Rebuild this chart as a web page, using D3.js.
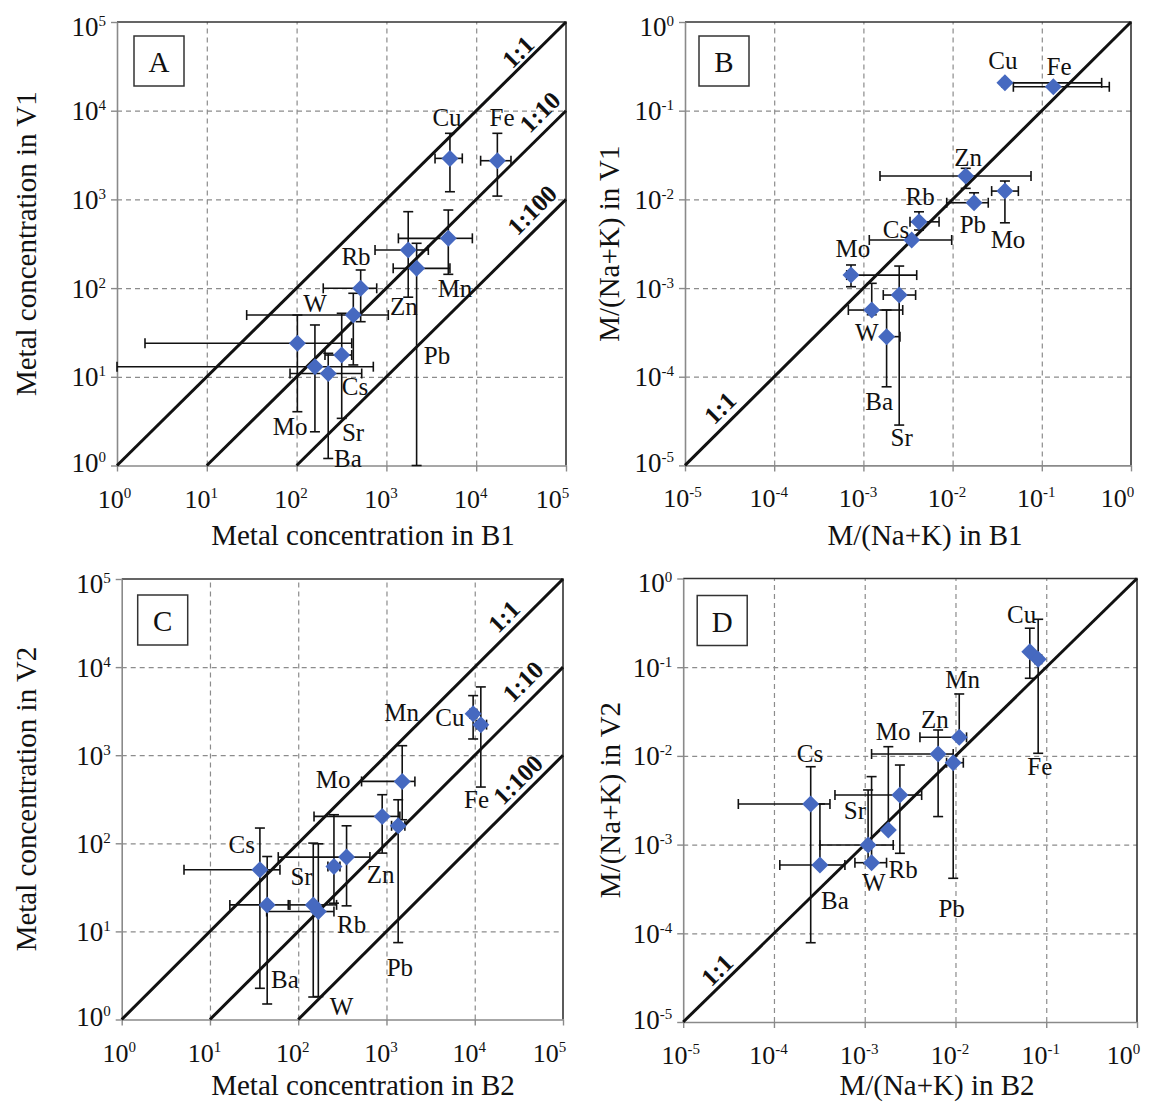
<!DOCTYPE html>
<html><head><meta charset="utf-8">
<script src="https://cdn.jsdelivr.net/npm/d3@7"></script>
<style>
body{margin:0;background:#fff}
svg{display:block}
text{font-family:"Liberation Serif","Times New Roman",serif;fill:#111}
</style>
</head><body>
<svg id="c" width="1149" height="1106"></svg>
<script>
// ---------------- DATA ----------------
// tick exponents (labels are 10^n)
const concExps  = [0, 1, 2, 3, 4, 5];
const ratioExps = [-5, -4, -3, -2, -1, 0];

const panelLetters = ["A", "B", "C", "D"];
const xTitles = ["Metal concentration in B1", "M/(Na+K) in B1", "Metal concentration in B2", "M/(Na+K) in B2"];
const yTitles = ["Metal concentration in V1", "M/(Na+K) in V1", "Metal concentration in V2", "M/(Na+K) in V2"];

// [element, x, xLow, xHigh, y, yLow, yHigh]
const pointsA = [
  ["Cu", 5100, 3480, 7000, 2900, 1220, 5560],
  ["Fe", 17200, 11200, 24400, 2730, 1090, 5560],
  ["Mn", 4890, 1360, 9060, 364, 143, 759],
  ["Rb", 1750, 747, 2930, 269, 79, 727],
  ["Pb", 2170, 1190, 5100, 167, 1.0, 320],
  ["Zn", 517, 198, 780, 99.5, 41.8, 160],
  ["W", 428, 27.8, 1050, 49.7, 13.6, 87.4],
  ["Mo", 102, 2.05, 411, 23.9, 4.04, 49.7],
  ["Cs", 160, 1, 715, 13.0, 2.4, 38.4],
  ["Ba", 225, 84.5, 531, 10.9, 1.2, 18.4],
  ["Sr", 318, 207, 411, 17.6, 3.4, 52]
];
const pointsB = [
  ["Cu", 0.0386, 0.036, 0.469, 0.206, 0.206, 0.206],
  ["Fe", 0.1346, 0.048, 0.571, 0.186, 0.186, 0.186],
  ["Zn", 0.01403, 0.001535, 0.0757, 0.01832, 0.0133, 0.0224],
  ["Mn", 0.0386, 0.0274, 0.0546, 0.0124, 0.00544, 0.0161],
  ["Pb", 0.0174, 0.00859, 0.0251, 0.00916, 0.00863, 0.01186],
  ["Rb", 0.0042, 0.00333, 0.00705, 0.00558, 0.00451, 0.00724],
  ["Cs", 0.00348, 0.001164, 0.00977, 0.00348, 0.00348, 0.00348],
  ["Mo", 0.000726, 0.00065, 0.00396, 0.0014, 0.001035, 0.00182],
  ["Sr", 0.00252, 0.00167, 0.00385, 0.000834, 0.0000285, 0.00177],
  ["W", 0.00124, 0.000678, 0.00276, 0.000565, 0.0005, 0.00113],
  ["Ba", 0.00182, 0.00175, 0.00257, 0.000283, 0.000077, 0.000565]
];
const pointsC = [
  ["Mn", 1507, 522, 2099, 504, 185, 1282],
  ["Zn", 894, 151, 1418, 202, 77.4, 356],
  ["Pb", 1357, 1142, 1616, 158, 7.46, 312],
  ["Rb", 353, 59.4, 649, 69.7, 19.5, 158],
  ["Sr", 254, 217, 297, 54.5, 20.9, 211],
  ["Cs", 36.8, 5.08, 62.1, 50, 2.26, 149],
  ["Ba", 44.5, 16.8, 77.1, 20, 1.5, 70.8],
  ["W", 148, 80.5, 272, 20, 1.8, 100.5],
  ["Mo", 169, 43.9, 254, 16.8, 1.82, 98.7],
  ["Cu", 9590, 8790, 10540, 2963, 1528, 4745],
  ["Fe", 11720, 10470, 13610, 2223, 435, 5957]
];
const pointsD = [
  ["Cs", 0.000254, 0.0000405, 0.000414, 0.00287, 0.0000783, 0.00755],
  ["Ba", 0.000321, 0.000116, 0.000605, 0.000589, 0.000589, 0.00287],
  ["W", 0.00119, 0.00078, 0.00174, 0.000625, 0.000625, 0.00584],
  ["Sr", 0.00109, 0.000321, 0.00206, 0.000989, 0.00061, 0.00413],
  ["Mo", 0.00182, 0.00182, 0.00182, 0.00146, 0.00146, 0.0127],
  ["Rb", 0.00244, 0.00047, 0.00424, 0.00362, 0.000798, 0.00789],
  ["Zn", 0.00644, 0.00119, 0.00944, 0.0105, 0.00207, 0.0196],
  ["Mn", 0.011, 0.00406, 0.01324, 0.0162, 0.0162, 0.0499],
  ["Pb", 0.00944, 0.00798, 0.0122, 0.00838, 0.000417, 0.00838],
  ["Cu", 0.0659, 0.0659, 0.0659, 0.1496, 0.075, 0.275],
  ["Fe", 0.0815, 0.0748, 0.0889, 0.1227, 0.0107, 0.347]
];

// element labels: [text, x, y] in data units
const labelsA = [["Cu",4730,8280],["Fe",19400,8280],["Rb",459,230],["Zn",1570,62.8],["Mn",5810,97.7],["W",160,66.2],["Pb",3660,17.2],["Cs",447,7.87],["Mo",84.5,2.72],["Sr",425,2.36],["Ba",373,1.2]];
const labelsB = [["Cu",0.0367,0.372],["Fe",0.156,0.318],["Zn",0.0149,0.0293],["Rb",0.00432,0.0107],["Pb",0.0169,0.00527],["Mo",0.0418,0.00356],["Cs",0.00232,0.00462],["Mo",0.000764,0.00282],["W",0.00109,0.000319],["Ba",0.0015,0.0000522],["Sr",0.00269,0.0000204]];
const labelsC = [["Mn",1483,3020],["Cu",5224,2649],["Mo",249,527],["Fe",10470,312],["Cs",22.9,96.2],["Sr",109,42],["Zn",857,43.9],["Rb",403,11.9],["Ba",70.7,2.81],["Pb",1418,3.85],["W",310,1.4]];
const labelsD = [["Cs",0.000249,0.0107],["Mo",0.00206,0.0188],["Zn",0.00593,0.0254],["Mn",0.01197,0.0718],["Cu",0.0535,0.388],["Fe",0.0849,0.00755],["Sr",0.00078,0.00245],["Rb",0.00265,0.000518],["W",0.00126,0.000372],["Ba",0.00047,0.000237],["Pb",0.00906,0.000191]];

// reference ratio lines (y = x / ratio)
const ratiosConc = [1, 10, 100];
const ratiosNorm = [1];
const ratioLabelsA = [["1:1",29200,45900],["1:10",51300,9670],["1:100",41800,759]];
const ratioLabelsB = [["1:1",0.0000247,0.0000444]];
const ratioLabelsC = [["1:1",21400,37500],["1:10",35100,6840],["1:100",30800,527]];
const ratioLabelsD = [["1:1",0.0000236,0.0000385]];

// ---------------- LAYOUT ----------------
const panels = [
  {pts: pointsA, labels: labelsA, ratios: ratiosConc, rl: ratioLabelsA, exps: concExps,
   box: [117, 566, 22, 465.5], xt: [363, 545], yt: [36, 243.7], lo: [17, 14]},
  {pts: pointsB, labels: labelsB, ratios: ratiosNorm, rl: ratioLabelsB, exps: ratioExps,
   box: [685, 1131, 22, 465.4], xt: [925, 545], yt: [619, 243.7], lo: [14, 14]},
  {pts: pointsC, labels: labelsC, ratios: ratiosConc, rl: ratioLabelsC, exps: concExps,
   box: [121.7, 563, 579, 1019.5], xt: [363, 1095], yt: [36, 799], lo: [16, 16]},
  {pts: pointsD, labels: labelsD, ratios: ratiosNorm, rl: ratioLabelsD, exps: ratioExps,
   box: [683.2, 1137, 578.5, 1022], xt: [937, 1095], yt: [620, 800], lo: [14, 17]}
];

const svg = d3.select("#c");
const gridCol = "#8c8c8c", axisCol = "#8a8a8a", ptCol = "#4669c0";
const serif = 'font-family:"Liberation Serif","Times New Roman",serif';

function supLabel(sel, e) {
  sel.append("tspan").text("10");
  sel.append("tspan").attr("dy", -10).attr("font-size", 15).text(String(e));
}

panels.forEach((p, i) => {
  const [L, R, T, B] = p.box;
  const lo = Math.pow(10, p.exps[0]), hi = Math.pow(10, p.exps[p.exps.length - 1]);
  const x = d3.scaleLog().domain([lo, hi]).range([L, R]);
  const y = d3.scaleLog().domain([lo, hi]).range([B, T]);
  const g = svg.append("g");
  const tv = p.exps.map(e => Math.pow(10, e));
  const inner = tv.slice(1, -1);

  // grid
  g.append("g").attr("transform", `translate(0,${B})`)
    .call(d3.axisBottom(x).tickValues(inner).tickSize(-(B - T)).tickFormat(""))
    .call(s => { s.select(".domain").remove();
      s.selectAll("line").attr("stroke", gridCol).attr("stroke-dasharray", "5,4").attr("stroke-width", 1.2); });
  g.append("g").attr("transform", `translate(${L},0)`)
    .call(d3.axisLeft(y).tickValues(inner).tickSize(-(R - L)).tickFormat(""))
    .call(s => { s.select(".domain").remove();
      s.selectAll("line").attr("stroke", gridCol).attr("stroke-dasharray", "5,4").attr("stroke-width", 1.2); });

  // frame top/right
  g.append("path").attr("d", `M${L},${T}H${R}V${B}`).attr("fill", "none")
    .attr("stroke", "#333").attr("stroke-width", 1.6);

  // axes
  const n = tv.length;
  const ax = g.append("g").attr("transform", `translate(0,${B})`)
    .call(d3.axisBottom(x).tickValues(tv).tickSize(6).tickSizeOuter(0).tickFormat(""));
  ax.select(".domain").attr("stroke", axisCol).attr("stroke-width", 1.6);
  ax.selectAll(".tick line").attr("stroke", axisCol).attr("stroke-width", 1.4);
  ax.selectAll(".tick").each(function(d, k) {
    const off = k === 0 ? -3 : (k === n - 1 ? -14 : -6);
    const t = d3.select(this).append("text").attr("x", off).attr("y", 42)
      .attr("text-anchor", "middle").attr("font-size", 26).attr("fill", "#111")
      .attr("style", serif);
    supLabel(t, Math.round(Math.log10(d)));
  });
  const ay = g.append("g").attr("transform", `translate(${L},0)`)
    .call(d3.axisLeft(y).tickValues(tv).tickSize(6).tickSizeOuter(0).tickFormat(""));
  ay.select(".domain").attr("stroke", axisCol).attr("stroke-width", 1.6);
  ay.selectAll(".tick line").attr("stroke", axisCol).attr("stroke-width", 1.4);
  ay.selectAll(".tick").each(function(d, k) {
    const off = k === n - 1 ? 13 : (k === 0 ? 6 : 9);
    const t = d3.select(this).append("text").attr("x", -11).attr("y", off)
      .attr("text-anchor", "end").attr("font-size", 27).attr("fill", "#111")
      .attr("style", serif);
    supLabel(t, Math.round(Math.log10(d)));
  });

  // ratio lines
  g.selectAll("line.ratio").data(p.ratios).join("line")
    .attr("x1", r => x(lo * r)).attr("y1", y(lo))
    .attr("x2", x(hi)).attr("y2", r => y(hi / r))
    .attr("stroke", "#111").attr("stroke-width", 3);
  g.selectAll("text.rl").data(p.rl).join("text")
    .attr("transform", d => `translate(${x(d[1])},${y(d[2])}) rotate(-45)`)
    .attr("text-anchor", "middle").attr("dominant-baseline", "central")
    .attr("font-weight", "bold").attr("font-size", 25).text(d => d[0]);

  // error bars
  const segs = [];
  const cap = 5;
  p.pts.forEach(([nm, xv, xl, xh, yv, yl, yh]) => {
    const cx = x(xv), cy = y(yv);
    if (xl < xv) { segs.push([x(xl), cy, cx, cy]); segs.push([x(xl), cy - cap, x(xl), cy + cap]); }
    if (xh > xv) { segs.push([cx, cy, x(xh), cy]); segs.push([x(xh), cy - cap, x(xh), cy + cap]); }
    if (yl < yv) { segs.push([cx, y(yl), cx, cy]); segs.push([cx - cap, y(yl), cx + cap, y(yl)]); }
    if (yh > yv) { segs.push([cx, cy, cx, y(yh)]); segs.push([cx - cap, y(yh), cx + cap, y(yh)]); }
  });
  g.selectAll("line.eb").data(segs).join("line")
    .attr("x1", d => d[0]).attr("y1", d => d[1]).attr("x2", d => d[2]).attr("y2", d => d[3])
    .attr("stroke", "#111").attr("stroke-width", 1.6);

  // markers
  g.selectAll("path.pt").data(p.pts).join("path")
    .attr("d", "M0,-8.5L8.5,0L0,8.5L-8.5,0Z")
    .attr("transform", d => `translate(${x(d[1])},${y(d[4])})`)
    .attr("fill", ptCol);

  // element labels
  g.selectAll("text.el").data(p.labels).join("text")
    .attr("x", d => x(d[1])).attr("y", d => y(d[2]))
    .attr("text-anchor", "middle").attr("dominant-baseline", "central")
    .attr("font-size", 25).text(d => d[0]);

  // panel letter box
  g.append("rect").attr("x", L + p.lo[0]).attr("y", T + p.lo[1]).attr("width", 50).attr("height", 50)
    .attr("fill", "#fff").attr("stroke", "#333").attr("stroke-width", 1.5);
  g.append("text").attr("x", L + p.lo[0] + 25).attr("y", T + p.lo[1] + 36)
    .attr("text-anchor", "middle").attr("font-size", 29).text(panelLetters[i]);

  // axis titles
  g.append("text").attr("x", p.xt[0]).attr("y", p.xt[1]).attr("text-anchor", "middle")
    .attr("font-size", 29).text(xTitles[i]);
  g.append("text").attr("transform", `translate(${p.yt[0]},${p.yt[1]}) rotate(-90)`)
    .attr("text-anchor", "middle").attr("font-size", 29).text(yTitles[i]);
});
</script>
</body></html>
